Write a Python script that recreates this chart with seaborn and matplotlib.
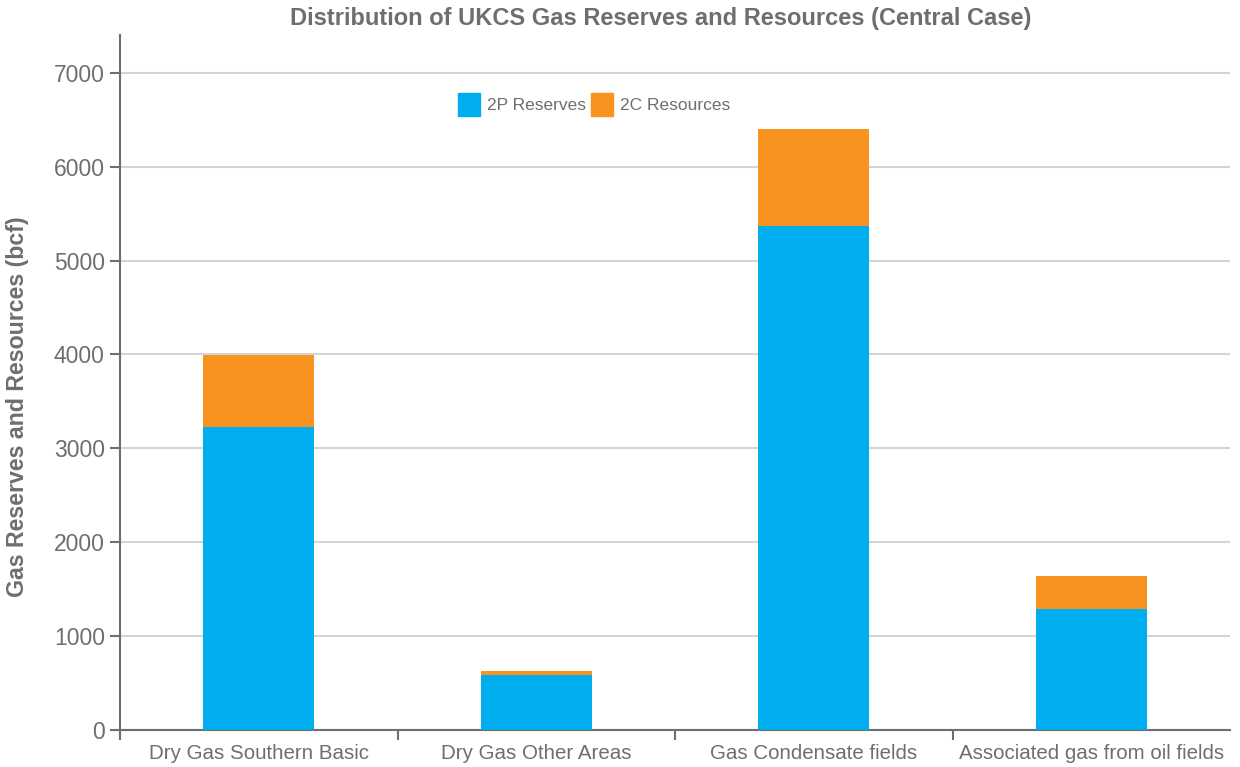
import matplotlib
matplotlib.use("Agg")
import matplotlib.pyplot as plt
import seaborn as sns
import pandas as pd
from matplotlib.patches import Patch

# ----------------------------------------
# Data (bcf)
# ----------------------------------------
categories = ["Dry Gas Southern Basic", "Dry Gas Other Areas",
              "Gas Condensate fields", "Associated gas from oil fields"]
reserves_2p = [3230, 585, 5370, 1290]
resources_2c = [765, 45, 1035, 350]

df = pd.DataFrame({"category": categories, "2P": reserves_2p, "2C": resources_2c})
df["total"] = df["2P"] + df["2C"]

blue = "#00AEEF"
orange = "#F7931E"
grey = "#6D6E71"

sns.set_style("white")
plt.rcParams["font.family"] = ["Liberation Sans", "DejaVu Sans"]

fig = plt.figure(figsize=(12.4, 7.67), dpi=100)
ax = fig.add_axes([0.0968, 0.0482, 0.8952, 0.906])

# stacked: total in orange, 2P drawn over it in blue
sns.barplot(data=df, x="category", y="total", color=orange, width=0.4,
            saturation=1, linewidth=0, ax=ax, zorder=3)
sns.barplot(data=df, x="category", y="2P", color=blue, width=0.4,
            saturation=1, linewidth=0, ax=ax, zorder=3)

ax.set_xlim(-0.5, 3.5)
ax.set_ylim(0, 7400)
ax.set_yticks(range(0, 8000, 1000))
ax.yaxis.grid(True, color="#D4D4D4", linewidth=1.5, zorder=0)
ax.set_axisbelow(True)

for side in ["top", "right"]:
    ax.spines[side].set_visible(False)
for side in ["left", "bottom"]:
    ax.spines[side].set_color(grey)
    ax.spines[side].set_linewidth(1.5)

ax.tick_params(axis="y", direction="out", length=7, width=1.5, color=grey,
               labelcolor=grey, labelsize=16.5, pad=4, left=True)
ax.tick_params(axis="x", which="major", length=0, labelcolor=grey,
               labelsize=14.8, pad=10)
ax.set_xticks([-0.5, 0.5, 1.5, 2.5], minor=True)
ax.tick_params(axis="x", which="minor", direction="out", length=7,
               width=1.5, color=grey, bottom=True)

ax.set_xlabel("")
ax.set_ylabel("Gas Reserves and Resources (bcf)", fontsize=16.7,
              fontweight="bold", color=grey)
ax.yaxis.set_label_coords(-0.082, 0.465)

fig.text(0.533, 0.976, "Distribution of UKCS Gas Reserves and Resources (Central Case)",
         ha="center", va="center", fontsize=17, fontweight="bold", color=grey)

handles = [Patch(color=blue, label="2P Reserves"),
           Patch(color=orange, label="2C Resources")]
leg = ax.legend(handles=handles, loc="center", bbox_to_anchor=(0.427, 0.9),
                ncol=2, frameon=False, fontsize=12.5, handlelength=1.25,
                handleheight=1.6, handletextpad=0.4, columnspacing=0.3)
for t in leg.get_texts():
    t.set_color(grey)

fig.savefig("out.png", dpi=100)
